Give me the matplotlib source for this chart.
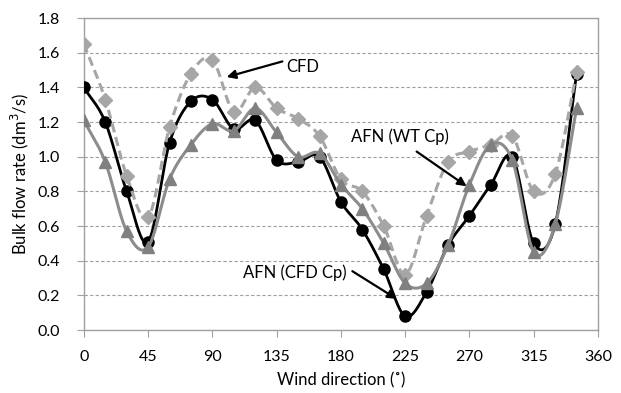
import numpy as np
import matplotlib
matplotlib.use("Agg")
import matplotlib.pyplot as plt

directions = list(range(0, 360, 15))
afn_cfd_cp = [1.40, 1.20, 0.80, 0.51, 1.08, 1.32, 1.33, 1.16, 1.21, 0.98, 0.97, 1.00,
              0.74, 0.58, 0.35, 0.08, 0.22, 0.49, 0.66, 0.84, 1.00, 0.50, 0.61, 1.48]
afn_wt_cp = [1.21, 0.97, 0.57, 0.48, 0.87, 1.07, 1.19, 1.15, 1.28, 1.14, 1.00, 1.02,
             0.84, 0.70, 0.50, 0.27, 0.27, 0.49, 0.84, 1.07, 0.98, 0.45, 0.61, 1.28]
cfd = [1.65, 1.33, 0.89, 0.65, 1.17, 1.48, 1.56, 1.26, 1.40, 1.28, 1.22, 1.12,
       0.87, 0.80, 0.60, 0.32, 0.66, 0.97, 1.03, 1.07, 1.12, 0.80, 0.90, 1.49]
x_ticks = [0, 45, 90, 135, 180, 225, 270, 315, 360]
y_ticks = [0.0, 0.2, 0.4, 0.6, 0.8, 1.0, 1.2, 1.4, 1.6, 1.8]

plt.rcParams['font.family'] = ['Lato', 'DejaVu Sans']


def smooth(xs, ys, n=20):
    xs = np.asarray(xs, float)
    ys = np.asarray(ys, float)
    px = np.concatenate([[2 * xs[0] - xs[1]], xs, [2 * xs[-1] - xs[-2]]])
    py = np.concatenate([[2 * ys[0] - ys[1]], ys, [2 * ys[-1] - ys[-2]]])
    ox, oy = [], []
    t = np.linspace(0, 1, n, endpoint=False)
    for i in range(1, len(px) - 2):
        for P, out in ((px, ox), (py, oy)):
            p0, p1, p2, p3 = P[i - 1], P[i], P[i + 1], P[i + 2]
            v = 0.5 * ((2 * p1) + (-p0 + p2) * t + (2 * p0 - 5 * p1 + 4 * p2 - p3) * t ** 2
                       + (-p0 + 3 * p1 - 3 * p2 + p3) * t ** 3)
            out.extend(v)
    ox.append(xs[-1])
    oy.append(ys[-1])
    return np.array(ox), np.array(oy)


fig = plt.figure(figsize=(6.21, 3.93), dpi=100)
ax = fig.add_axes([0.135, 0.160, 0.828, 0.794])

sx, sy = smooth(directions, afn_cfd_cp)
ax.plot(sx, sy, color='black', lw=2.0, zorder=3)
ax.plot(directions, afn_cfd_cp, 'o', color='black', ms=8, zorder=3)

sx, sy = smooth(directions, cfd)
ax.plot(sx, sy, color='#a6a6a6', lw=2.2, ls=(0, (3, 1.6)), zorder=4)
ax.plot(directions, cfd, 'D', color='#a6a6a6', ms=7.5, zorder=4)

sx, sy = smooth(directions, afn_wt_cp)
ax.plot(sx, sy, color='#8c8c8c', lw=2.2, zorder=5)
ax.plot(directions, afn_wt_cp, '^', color='#808080', ms=9, zorder=5)

ax.set_xlim(0, 360)
ax.set_ylim(0, 1.8)
ax.set_xticks(x_ticks)
ax.set_yticks(y_ticks)
ax.set_yticklabels([f"{v:.1f}" for v in y_ticks])
ax.grid(axis='y', color='#a0a0a0', ls=(0, (3, 2)), lw=0.8)
ax.set_axisbelow(True)
for s in ax.spines.values():
    s.set_color('#a0a0a0')
    s.set_linewidth(1.0)
ax.tick_params(direction='out', length=5, color='#a0a0a0', labelsize=11.5)
ax.tick_params(axis='x', pad=9)
ax.tick_params(axis='y', pad=12)

ax.set_xlabel('Wind direction (˚)', fontsize=12, labelpad=6)
ax.set_ylabel('Bulk flow rate (dm$^3$/s)', fontsize=12, labelpad=5)

arrow = dict(arrowstyle='-|>', color='black', lw=1.6, mutation_scale=13,
             shrinkA=0, shrinkB=0)
ax.text(153, 1.52, 'CFD', fontsize=12, ha='center', va='center')
ax.annotate('', xy=(100, 1.46), xytext=(139, 1.55), arrowprops=arrow, zorder=6)
ax.text(221, 1.115, 'AFN (WT Cp)', fontsize=12, ha='center', va='center')
ax.annotate('', xy=(268, 0.83), xytext=(233, 1.03), arrowprops=arrow, zorder=6)
ax.text(148, 0.33, 'AFN (CFD Cp)', fontsize=12, ha='center', va='center')
ax.annotate('', xy=(219, 0.18), xytext=(188, 0.34), arrowprops=arrow, zorder=6)

fig.savefig('out.png', dpi=100)
